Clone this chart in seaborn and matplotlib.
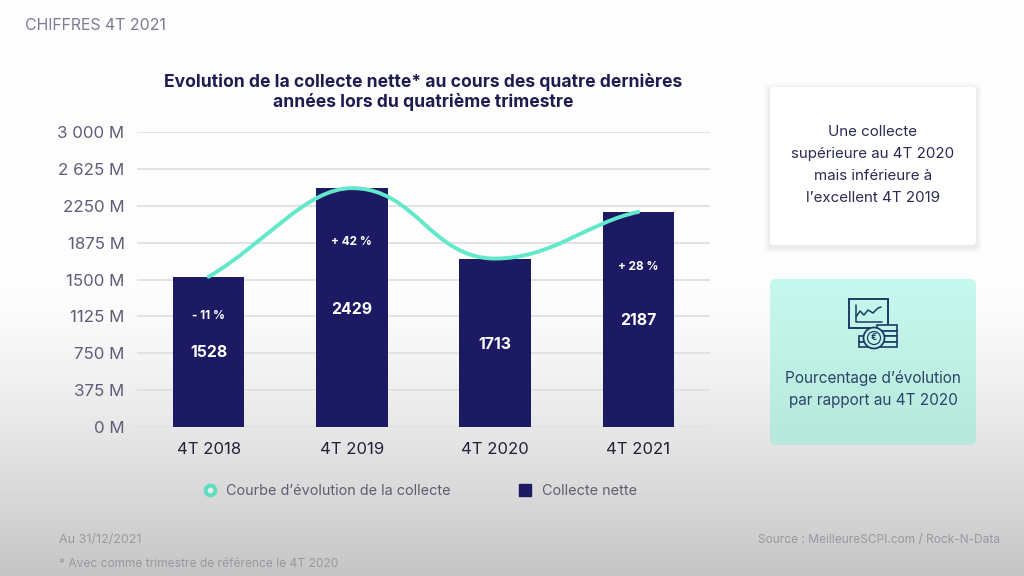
import numpy as np
import pandas as pd
import seaborn as sns
import matplotlib.pyplot as plt
from matplotlib.lines import Line2D
from matplotlib.patches import FancyBboxPatch, PathPatch, Rectangle, Circle
from matplotlib.path import Path
from matplotlib.colors import LinearSegmentedColormap

quarters = ["4T 2018", "4T 2019", "4T 2020", "4T 2021"]
collecte = [1528, 2429, 1713, 2187]
evolution = ["- 11 %", "+ 42 %", None, "+ 28 %"]
evolution_y = [1129, 1882, None, 1627]
value_y = [753, 1200, 844, 1088]
yticks = [0, 375, 750, 1125, 1500, 1875, 2250, 2625, 3000]
ytick_labels = ["0 M", "375 M", "750 M", "1125 M", "1500 M", "1875 M", "2250 M", "2 625 M", "3 000 M"]

NAVY = "#1b1a63"
TEAL = "#62e8cb"
INK = "#1f1d4f"
GRID = "#dfdfe6"
MINT = "#c2f5ea"

sns.set_theme(style="white")
plt.rcParams["font.family"] = ["Inter", "DejaVu Sans"]

fig = plt.figure(figsize=(10.24, 5.76), dpi=100)

# fond : blanc en haut, gris en bas
bg = fig.add_axes([0, 0, 1, 1], zorder=0)
yy, xx = np.mgrid[0:1:144j, 0:1:256j]
shade = np.clip((yy - 0.5) / 0.5, 0, 1) ** 1.3
cmap = LinearSegmentedColormap.from_list("fond", ["#fdfdfe", "#c6c6c6"])
bg.imshow(shade, cmap=cmap, vmin=0, vmax=1, aspect="auto", extent=[0, 1024, 576, 0])
bg.set_xlim(0, 1024)
bg.set_ylim(576, 0)
bg.axis("off")

# graphique principal
ax = fig.add_axes([137 / 1024, 1 - 427 / 576, 573 / 1024, 295 / 576], zorder=1)
ax.patch.set_alpha(0)
df = pd.DataFrame({"trimestre": quarters, "collecte": collecte})
sns.barplot(data=df, x="trimestre", y="collecte", color=NAVY, saturation=1, width=0.5, linewidth=0, ax=ax, zorder=3)
ax.set_xlim(-0.5, 3.5)
ax.set_ylim(0, 3000)
ax.set_xlabel("")
ax.set_ylabel("")
ax.set_yticks(yticks)
ax.set_yticklabels(ytick_labels, fontsize=12.2, color="#5d5d78")
ax.tick_params(axis="x", labelsize=12, labelcolor="#22223a", length=0, pad=11)
ax.tick_params(axis="y", length=0, pad=9)
ax.yaxis.grid(True, color=GRID, lw=1.3, zorder=0)
ax.set_axisbelow(True)
sns.despine(ax=ax, left=True, bottom=True)

# courbe lissee entre les valeurs
xs = range(len(collecte))
verts = [(0, collecte[0])]
codes = [Path.MOVETO]
for i in range(len(collecte) - 1):
    a, b = collecte[i], collecte[i + 1]
    if i == 0:
        c1, c2 = (i + 0.4, a + (b - a) * 0.38), (i + 0.68, b)
    elif i == len(collecte) - 2:
        c1, c2 = (i + 0.4, a), (i + 0.65, b - (b - a) * 0.22)
    else:
        c1, c2 = (i + 0.45, a), (i + 0.55, b)
    verts += [c1, c2, (i + 1, b)]
    codes += [Path.CURVE4] * 3
ax.add_patch(PathPatch(Path(verts, codes), fc="none", ec=TEAL, lw=2.8, zorder=4, capstyle="round"))

for x, v, vy, lab, ly in zip(xs, collecte, value_y, evolution, evolution_y):
    ax.text(x, vy, str(v), color="white", ha="center", va="center", fontsize=11.4, fontweight="bold", zorder=5)
    if lab:
        ax.text(x, ly, lab, color="white", ha="center", va="center", fontsize=8.5, fontweight="bold", zorder=5)

handles = [
    Line2D([], [], ls="", marker="o", ms=7, mfc="#e4efec", mec="#5fdcc0", mew=2.8),
    Line2D([], [], ls="", marker="s", ms=9, mfc=NAVY, mec=NAVY),
]
fig.legend(handles, ["Courbe d’évolution de la collecte", "Collecte nette"], ncol=2, frameon=False,
           loc="center left", bbox_to_anchor=(188 / 1024, 1 - 491 / 576), fontsize=10.4,
           labelcolor="#5e5e72", columnspacing=4.55, handletextpad=0.55, handlelength=1.2)

# textes et encadres dans une couche en pixels
ov = fig.add_axes([0, 0, 1, 1], zorder=2)
ov.set_xlim(0, 1024)
ov.set_ylim(576, 0)
ov.axis("off")

ov.text(25, 26, "CHIFFRES 4T 2021", fontsize=11.4, color="#7b7b96", va="center")
ov.text(423, 92, "Evolution de la collecte nette* au cours des quatre dernières\nannées lors du quatrième trimestre",
        fontsize=12.6, fontweight="bold", color=INK, ha="center", va="center", linespacing=1.2)
ov.text(59, 540, "Au 31/12/2021", fontsize=9, color="#98989f", va="center")
ov.text(59, 564, "* Avec comme trimestre de référence le 4T 2020", fontsize=8.6, color="#98989f", va="center")
ov.text(1000, 540, "Source : MeilleureSCPI.com / Rock-N-Data", fontsize=8.6, color="#98989f", va="center", ha="right")

for off, alpha in [(6, 0.025), (4, 0.035), (2, 0.045)]:
    ov.add_patch(FancyBboxPatch((770 - off, 87 - off + 2), 206 + 2 * off, 158 + 2 * off,
                                boxstyle="round,pad=0,rounding_size=6", fc="#55556a", ec="none", alpha=alpha))
ov.add_patch(FancyBboxPatch((770, 87), 206, 158, boxstyle="round,pad=0,rounding_size=4", fc="white", ec="none"))
ov.text(873, 165, "Une collecte\nsupérieure au 4T 2020\nmais inférieure à\nl’excellent 4T 2019", fontsize=10.9,
        color="#2b2b52", ha="center", va="center", linespacing=1.72)

# encadre menthe en degrade
box = FancyBboxPatch((770, 279), 206, 166, boxstyle="round,pad=0,rounding_size=6", fc="none", ec="none")
ov.add_patch(box)
mint = LinearSegmentedColormap.from_list("menthe", ["#c6f9ee", "#b8e8dc"])
grad = ov.imshow(np.linspace(0, 1, 64).reshape(-1, 1), cmap=mint, aspect="auto", extent=[770, 976, 445, 279])
grad.set_clip_path(box)
ov.set_xlim(0, 1024)
ov.set_ylim(576, 0)
ov.text(873, 389, "Pourcentage d’évolution\npar rapport au 4T 2020", fontsize=11.05, color="#2c4468",
        ha="center", va="center", linespacing=1.62)

# icone : ecran et pieces
ic = "#1e3a66"
ov.add_patch(Rectangle((849, 299), 39, 29, fc="none", ec=ic, lw=1.4))
ov.plot([856, 856, 882], [305, 322, 322], color=ic, lw=1.1)
ov.plot([856, 860, 864, 868, 873, 878, 881], [317, 311, 315, 310, 313, 308, 307], color=ic, lw=1.1)
for top in [325, 330.5, 336, 341.5]:
    ov.add_patch(Rectangle((877, top), 20, 5.5, fc=MINT, ec=ic, lw=1.2))
for top in [336, 341.5]:
    ov.add_patch(Rectangle((859, top), 14, 5.5, fc=MINT, ec=ic, lw=1.2))
ov.add_patch(Circle((874, 338), 10.5, fc=MINT, ec=ic, lw=1.3))
ov.add_patch(Circle((874, 338), 6.5, fc=MINT, ec=ic, lw=0.9))
ov.text(874, 338, "€", fontsize=6.5, color=ic, ha="center", va="center", fontweight="bold")

fig.savefig("out.png", dpi=100)
